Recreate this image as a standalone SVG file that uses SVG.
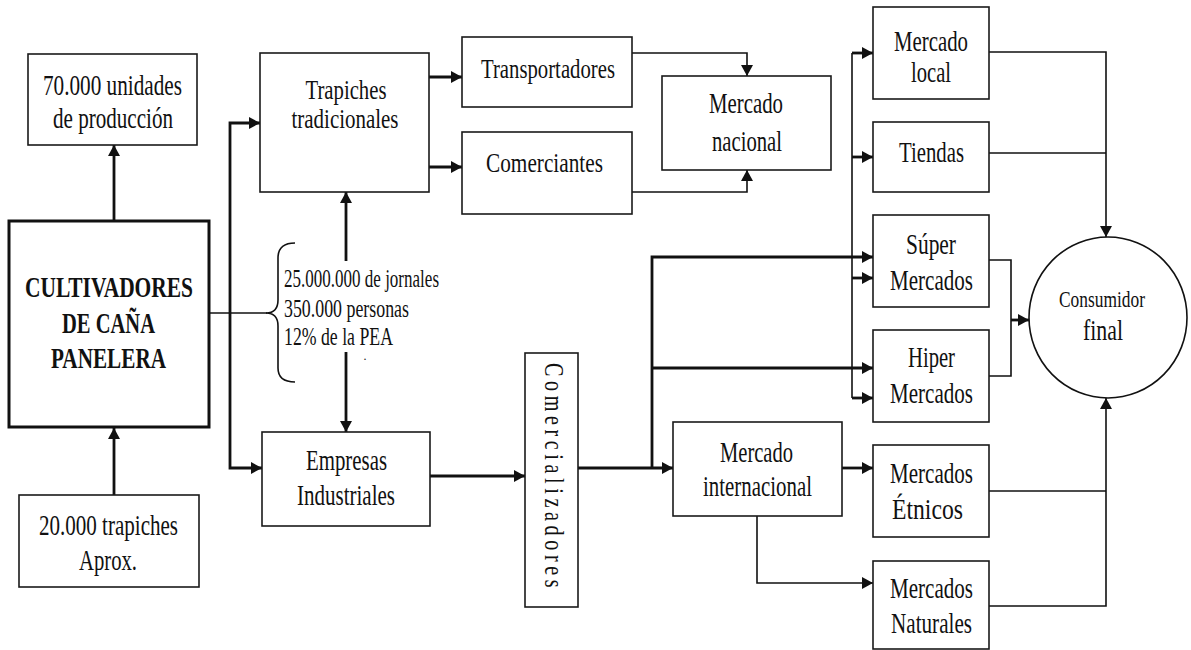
<svg xmlns="http://www.w3.org/2000/svg" width="1191" height="650" viewBox="0 0 1191 650">
<defs>
<style>
.box{fill:#fff;stroke:#1a1a1a;stroke-width:1.6}
.t{font-family:"Liberation Serif","Times New Roman",serif;font-size:29px;fill:#111;text-anchor:middle}
.b{font-weight:bold}
.l{text-anchor:start;font-size:25px}
.c{fill:none;stroke:#111;stroke-linejoin:miter}
.k{stroke-width:2.8}
.n{stroke-width:1.6}
.a{marker-end:url(#ah)}
</style>
<marker id="ah" viewBox="0 0 11 12" refX="11" refY="6" markerWidth="11" markerHeight="12" markerUnits="userSpaceOnUse" orient="auto">
<path d="M0,0 L11,6 L0,12 z" fill="#111"/>
</marker>
</defs>
<rect width="1191" height="650" fill="#fff"/>

<g id="connectors">
<path class="c k a" d="M114,221 V145"/>
<path class="c k a" d="M114,495 V428"/>
<path class="c n" d="M209,313 H267"/>
<path class="c k a" d="M230,313 V123 H260"/>
<path class="c k a" d="M230,313 V468 H262"/>
<path class="c k a" d="M429,77 H462"/>
<path class="c k a" d="M429,167 H462"/>
<path class="c k a" d="M346,261 V192"/>
<path class="c k a" d="M346,352 V432"/>
<path class="c n a" d="M632,53 H747 V76"/>
<path class="c n a" d="M632,192 H747 V170"/>
<path class="c k a" d="M430,476 H525"/>
<path class="c k a" d="M578,468 H673"/>
<path class="c k a" d="M652,468 V257 H873"/>
<path class="c k a" d="M652,368 H873"/>
<path class="c k a" d="M852,398 H873"/>
<path class="c n" d="M852,53 V398"/>
<path class="c k a" d="M852,53 H873"/>
<path class="c k a" d="M852,157 H873"/>
<path class="c k a" d="M852,278 H873"/>
<path class="c k a" d="M842,468 H873"/>
<path class="c n a" d="M757,516 V583 H873"/>
<path class="c n a" d="M989,52 H1106 V237"/>
<path class="c n" d="M989,153 H1106"/>
<path class="c n" d="M989,260 H1011 V376 H989"/>
<path class="c k a" d="M1011,320 H1029"/>
<path class="c n" d="M989,491 H1106"/>
<path class="c n a" d="M989,606 H1106 V398"/>
</g>

<g id="unidades">
<rect class="box" x="28" y="54" width="169" height="91"/>
<text class="t" x="112.5" y="95" style="font-size:30px" textLength="139" lengthAdjust="spacingAndGlyphs">70.000 unidades</text>
<text class="t" x="113" y="128" style="font-size:30px" textLength="120" lengthAdjust="spacingAndGlyphs">de producción</text>
</g>

<g id="cultivadores">
<rect x="9" y="221" width="200" height="206" fill="#fff" stroke="#111" stroke-width="3"/>
<text class="t b" x="109" y="297" style="font-size:30px" textLength="168" lengthAdjust="spacingAndGlyphs">CULTIVADORES</text>
<text class="t b" x="108.5" y="333" style="font-size:30px" textLength="93" lengthAdjust="spacingAndGlyphs">DE CAÑA</text>
<text class="t b" x="108.5" y="368" style="font-size:30px" textLength="115" lengthAdjust="spacingAndGlyphs">PANELERA</text>
</g>

<g id="trapiches20000">
<rect class="box" x="19" y="495" width="180" height="92"/>
<text class="t" x="108.5" y="535" style="font-size:30px" textLength="139" lengthAdjust="spacingAndGlyphs">20.000 trapiches</text>
<text class="t" x="108" y="570" style="font-size:30px" textLength="58" lengthAdjust="spacingAndGlyphs">Aprox.</text>
</g>

<g id="trapiches-tradicionales">
<rect class="box" x="260" y="53" width="169" height="139"/>
<text class="t" x="346" y="99" style="font-size:28px" textLength="81" lengthAdjust="spacingAndGlyphs">Trapiches</text>
<text class="t" x="345" y="128" style="font-size:28px" textLength="107" lengthAdjust="spacingAndGlyphs">tradicionales</text>
</g>

<g id="transportadores">
<rect class="box" x="462" y="37" width="170" height="70"/>
<text class="t" x="548" y="78" style="font-size:27px" textLength="134" lengthAdjust="spacingAndGlyphs">Transportadores</text>
</g>

<g id="comerciantes">
<rect class="box" x="462" y="132" width="170" height="82"/>
<text class="t" x="544.5" y="172" style="font-size:27px" textLength="117" lengthAdjust="spacingAndGlyphs">Comerciantes</text>
</g>

<g id="mercado-nacional">
<rect class="box" x="662" y="76" width="169" height="94"/>
<text class="t" x="746" y="113" textLength="74" lengthAdjust="spacingAndGlyphs">Mercado</text>
<text class="t" x="747" y="151" textLength="70" lengthAdjust="spacingAndGlyphs">nacional</text>
</g>

<g id="datos-empleo">
<path class="c n" d="M295,243 C284,243 278,248 278,258 V300 C278,308 274,313 266,313 C274,313 278,318 278,326 V368 C278,377 284,382 295,382"/>
<text class="t l" x="284" y="287" textLength="155" lengthAdjust="spacingAndGlyphs">25.000.000 de jornales</text>
<text class="t l" x="284" y="317" textLength="125" lengthAdjust="spacingAndGlyphs">350.000 personas</text>
<text class="t l" x="284" y="345" textLength="109" lengthAdjust="spacingAndGlyphs">12% de la PEA</text>
<text class="t" x="365" y="360" style="font-size:12px">.</text>
</g>

<g id="empresas-industriales">
<rect class="box" x="262" y="432" width="168" height="94"/>
<text class="t" x="346.5" y="470" textLength="81" lengthAdjust="spacingAndGlyphs">Empresas</text>
<text class="t" x="346" y="505" textLength="98" lengthAdjust="spacingAndGlyphs">Industriales</text>
</g>

<g id="comercializadores">
<rect class="box" x="525" y="353" width="53" height="254"/>
<text class="t" transform="translate(545,363) rotate(90) scale(0.72,1)" x="0" y="0" style="text-anchor:start;font-size:28px" textLength="312" lengthAdjust="spacing">Comercializadores</text>
</g>

<g id="mercado-internacional">
<rect class="box" x="673" y="422" width="169" height="94"/>
<text class="t" x="756.5" y="462" textLength="73" lengthAdjust="spacingAndGlyphs">Mercado</text>
<text class="t" x="757.5" y="496" textLength="109" lengthAdjust="spacingAndGlyphs">internacional</text>
</g>

<g id="mercado-local">
<rect class="box" x="873" y="7" width="116" height="92"/>
<text class="t" x="931" y="51" textLength="74" lengthAdjust="spacingAndGlyphs">Mercado</text>
<text class="t" x="931" y="82" textLength="40" lengthAdjust="spacingAndGlyphs">local</text>
</g>

<g id="tiendas">
<rect class="box" x="873" y="122" width="116" height="70"/>
<text class="t" x="931.5" y="162" textLength="65" lengthAdjust="spacingAndGlyphs">Tiendas</text>
</g>

<g id="super-mercados">
<rect class="box" x="873" y="215" width="116" height="92"/>
<text class="t" x="931" y="254" textLength="50" lengthAdjust="spacingAndGlyphs">Súper</text>
<text class="t" x="931.5" y="290" textLength="83" lengthAdjust="spacingAndGlyphs">Mercados</text>
</g>

<g id="hiper-mercados">
<rect class="box" x="873" y="330" width="116" height="92"/>
<text class="t" x="931.5" y="367" textLength="47" lengthAdjust="spacingAndGlyphs">Hiper</text>
<text class="t" x="931.5" y="403" textLength="83" lengthAdjust="spacingAndGlyphs">Mercados</text>
</g>

<g id="mercados-etnicos">
<rect class="box" x="873" y="445" width="116" height="92"/>
<text class="t" x="931.5" y="483" textLength="83" lengthAdjust="spacingAndGlyphs">Mercados</text>
<text class="t" x="927.5" y="519" textLength="71" lengthAdjust="spacingAndGlyphs">Étnicos</text>
</g>

<g id="mercados-naturales">
<rect class="box" x="873" y="561" width="116" height="88"/>
<text class="t" x="931.5" y="598" textLength="83" lengthAdjust="spacingAndGlyphs">Mercados</text>
<text class="t" x="931.5" y="633" textLength="81" lengthAdjust="spacingAndGlyphs">Naturales</text>
</g>

<g id="consumidor-final">
<ellipse cx="1108" cy="317.5" rx="79" ry="80.5" fill="#fff" stroke="#111" stroke-width="1.6"/>
<text class="t" x="1102" y="307" style="font-size:24px" textLength="86" lengthAdjust="spacingAndGlyphs">Consumidor</text>
<text class="t" x="1103" y="340" textLength="40" lengthAdjust="spacingAndGlyphs">final</text>
</g>
</svg>
